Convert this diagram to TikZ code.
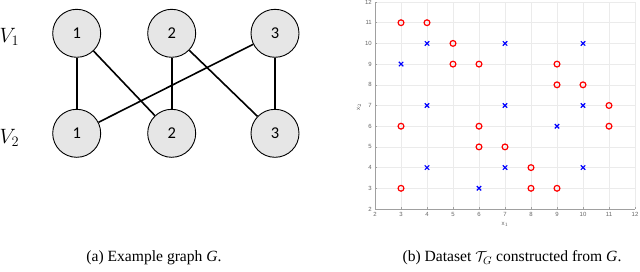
\documentclass[tikz,border=0pt]{standalone}
\usepackage{fontspec}
\setmainfont{Liberation Serif}
\newfontfamily\nodefont{Carlito}
\newfontfamily\tickfont{Liberation Sans}
\definecolor{nodegray}{RGB}{230,230,230}
\definecolor{gridc}{RGB}{235,235,235}
\definecolor{axisc}{RGB}{160,160,160}
\definecolor{tickc}{RGB}{100,100,100}
\definecolor{mred}{RGB}{255,0,0}
\definecolor{mblue}{RGB}{0,0,255}
\begin{document}
\begin{tikzpicture}[x=1pt,y=-1pt,
  gnode/.style={circle, draw=black, line width=0.9pt, fill=nodegray, minimum size=48pt, inner sep=0pt, font=\nodefont\fontsize{16.5}{16.5}\selectfont},
  gedge/.style={line width=1.6pt},
  vlab/.style={anchor=base west, inner sep=0pt, font=\fontsize{22}{22}\selectfont},
  gridline/.style={draw=gridc, line width=0.6pt},
  axisline/.style={draw=axisc, line width=0.8pt},
  ticklab/.style={inner sep=0pt, text=tickc, font=\tickfont\fontsize{6}{6}\selectfont},
  omark/.style={draw=mred, line width=1.2pt},
  xmark/.style={draw=mblue, line width=1.2pt},
  caption/.style={anchor=base, inner sep=0pt, font=\fontsize{15.6}{16}\selectfont}]
\useasboundingbox (0,0) rectangle (640,271);
% ---- graph (a)
\node[gnode] (a1) at (76.7,33.3) {1};
\node[gnode] (a2) at (171.7,33.3) {2};
\node[gnode] (a3) at (275,33.3) {3};
\node[gnode] (b1) at (76.7,133.3) {1};
\node[gnode] (b2) at (171.7,133.3) {2};
\node[gnode] (b3) at (275,133.3) {3};
\draw[gedge] (a1) -- (b1);
\draw[gedge] (a1) -- (b2);
\draw[gedge] (a2) -- (b2);
\draw[gedge] (a2) -- (b3);
\draw[gedge] (a3) -- (b3);
\draw[gedge] (a3) -- (b1);
\node[vlab] (v1) at (-0.5,42.5) {$V_1$};
\node[vlab] (v2) at (-0.5,143) {$V_2$};
% ---- plot (b)
\begin{scope}[shift={(323,250.4)}, x=26pt, y=20.7pt]
  \foreach \i in {3,...,11} {\draw[gridline] (\i,2) -- (\i,12);}
  \foreach \j in {3,...,11} {\draw[gridline] (2,\j) -- (12,\j);}
  \draw[gridline] (2,12) -- (12,12) -- (12,2);
  \draw[axisline] (2,12) -- (2,2) -- (12,2);
  \foreach \i in {2,...,12} {
    \draw[axisline, line width=0.5pt] (\i,2) -- ++(0,2pt);
    \node[ticklab, anchor=north] (xt\i) at ([yshift=-3pt]\i,2) {\i};
  }
  \foreach \j in {2,...,12} {
    \draw[axisline, line width=0.5pt] (2,\j) -- ++(2pt,0);
    \node[ticklab, anchor=east] (yt\j) at ([xshift=-3pt]2,\j) {\j};
  }
  \foreach \p in {(3,11),(4,11),(5,10),(5,9),(6,9),(9,9),(9,8),(10,8),(11,7),(3,6),(6,6),(11,6),(6,5),(7,5),(8,4),(3,3),(8,3),(9,3)}
    {\draw[omark] \p circle[radius=2.9pt];}
  \foreach \p in {(4,10),(7,10),(10,10),(3,9),(4,7),(7,7),(10,7),(9,6),(4,4),(7,4),(10,4),(6,3)}
    {\draw[xmark] \p +(-2.2pt,-2.2pt) -- +(2.2pt,2.2pt) +(-2.2pt,2.2pt) -- +(2.2pt,-2.2pt);}
\end{scope}
\node[ticklab] (xl) at (505,224) {x$_1$};
\node[ticklab, rotate=90] (yl) at (359,107) {x$_2$};
% ---- captions
\node[caption] (capa) at (154,261.7) {(a) Example graph \textit{G}.};
\node[caption] (capb) at (512,261.7) {(b) Dataset $\mathcal{T}_G$ constructed from \textit{G}.};
\end{tikzpicture}
\end{document}
